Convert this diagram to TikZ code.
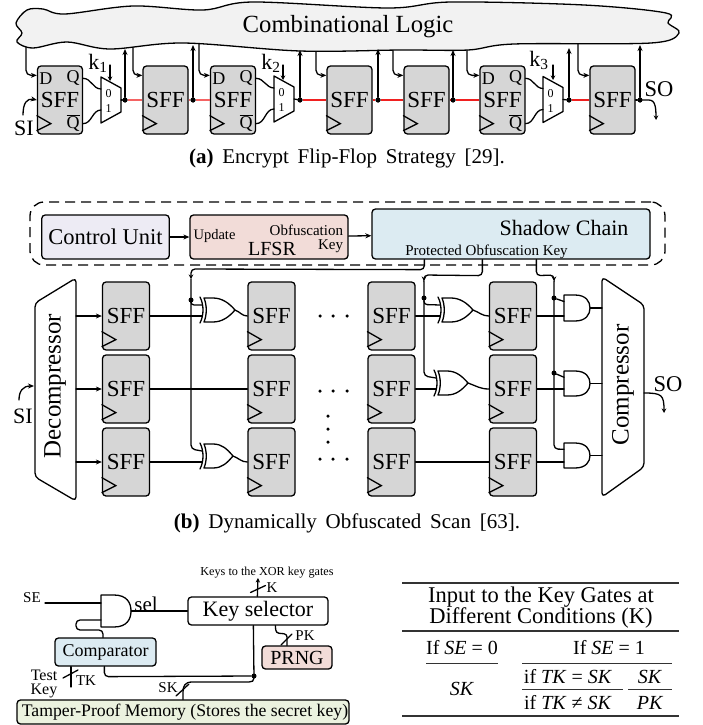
\documentclass[tikz,border=0pt]{standalone}
\usepackage{fontspec}
\setmainfont{Liberation Serif}
\usetikzlibrary{arrows.meta,calc,positioning}
\definecolor{ffgray}{HTML}{D6D6D6}
\definecolor{cloudgray}{HTML}{F2F2F2}
\definecolor{lav}{HTML}{EDEBF4}
\definecolor{pinkb}{HTML}{F2DCD8}
\definecolor{blueb}{HTML}{DCEBF2}
\definecolor{greenb}{HTML}{EBF2DF}
\definecolor{redw}{HTML}{F02020}
\newcommand\fs[1]{\fontsize{#1}{#1}\selectfont}
\newcommand\capf{\fs{21}\spaceskip=.42em\relax}
\tikzset{
 wire/.style={line width=1.3pt,draw=black,line cap=round},
 arr/.style={wire,-{Stealth[length=6pt,width=5pt]}},
 sarr/.style={wire,-{Stealth[length=4.5pt,width=4.5pt]}},
 redwire/.style={line width=1.3pt,draw=redw},
 palered/.style={line width=1.3pt,draw=redw!70},
 dotn/.style={circle,fill=black,inner sep=0,minimum size=5pt},
 sdot/.style={circle,fill=black,inner sep=0,minimum size=3.5pt},
 sffbox/.style={draw,line width=1.3pt,fill=ffgray,rounded corners=3.5pt,inner sep=0,minimum height=68pt,font=\fs{23}},
 blk/.style={draw,line width=1.3pt,rounded corners=3.5pt,inner sep=0},
 txt/.style={inner sep=0,outer sep=0},
 gate/.style={line width=1.3pt,draw=black,fill=white,line join=round},
}
% name, cx, cy, width
\newcommand\sff[4]{%
 \node[sffbox,minimum width=#4pt] (#1) at (#2,#3) {SFF};
 \draw[wire] ($(#1.south west)+(0,-19)$) -- ($(#1.south west)+(14,-11)$) -- ($(#1.south west)+(0,-4)$);
 \coordinate (#1-d) at ($(#1.north west)+(0,10)$);
}
% mux: name, x, top y
\newcommand\muxg[3]{%
 \begin{scope}[shift={(#2,#3)}]
 \draw[wire,line join=round,fill=white] (0,0) -- (20,11) -- (20,35) -- (0,46) -- cycle;
 \coordinate (#1-a) at (0,12);
 \coordinate (#1-b) at (0,33);
 \coordinate (#1-o) at (20,23);
 \coordinate (#1-s) at (9,5);
 \node[txt,font=\fs{12}] (#1-0) at (7.5,17) {0};
 \node[txt,font=\fs{12}] (#1-1) at (7.5,32) {1};
 \end{scope}
}
% xor: name, body-left x, center y, length
\newcommand\xorg[4]{%
 \begin{scope}[shift={(#2,#3)}]
 \draw[gate] (0,-12) -- (9,-12) .. controls (18,-12) and (#4-6,-7) .. (#4,0) .. controls (#4-6,7) and (18,12) .. (9,12) -- (0,12) .. controls (3,5) and (3,-5) .. (0,-12) -- cycle;
 \draw[wire] (-4,-13) .. controls (0,-5) and (0,5) .. (-4,13);
 \coordinate (#1-a) at (-2,-5);
 \coordinate (#1-b) at (-2,6);
 \coordinate (#1-o) at (#4,0);
 \end{scope}
}
% and: name, left x, center y
\newcommand\andg[5]{%
 \begin{scope}[shift={(#2,#3)}]
 \draw[gate] (0,-#5) -- (#4/2-2,-#5) .. controls (#4-4,-#5) and (#4,-#5/2) .. (#4,0) .. controls (#4,#5/2) and (#4-4,#5) .. (#4/2-2,#5) -- (0,#5) -- cycle;
 \coordinate (#1-a) at (0,-#5/2);
 \coordinate (#1-b) at (0,#5/2+1);
 \coordinate (#1-o) at (#4,0);
 \end{scope}
}
\begin{document}
\begin{tikzpicture}[x=1pt,y=-1pt]
\useasboundingbox (0,0) rectangle (702,725);
% ===== (a) =====
\sff{fa}{60}{100}{45}
\sff{fb}{165.5}{100}{45}
\sff{fc}{233}{100}{45}
\sff{fd}{349.5}{100}{45}
\sff{fe}{426.5}{100}{45}
\sff{ff}{502.5}{100}{45}
\sff{fg}{612.5}{100}{45}
% down wires
\coordinate (cda) at (26,40); \coordinate (cdb) at (133,40); \coordinate (cdc) at (199,40);
\coordinate (cdd) at (316,40); \coordinate (cde) at (393,40); \coordinate (cdf) at (467,40); \coordinate (cdg) at (578,40);
\foreach \c/\f in {cda/fa,cdb/fb,cdc/fc,cdd/fd,cde/fe,cdf/ff,cdg/fg}{
 \draw[arr,rounded corners=5pt] (\c) -- (\c |- \f-d) -- (\f-d);
}
% cloud
\path[wire,fill=cloudgray,draw=black] plot[smooth cycle,tension=0.55] coordinates {
 (16,23) (27,10) (43,9) (65,14) (133,6) (203,10) (253,2) (388,8) (451,2) (584,5) (666,13)
 (668,23) (679,33) (651,43) (514,44) (468,50) (401,50) (300,51) (183,43) (110,49) (67,42) (33,48) (17,42) (22,33)};
\node[txt,font=\fs{24.7}] (cloud) at (348,27) {Combinational Logic};
% muxes
\muxg{ma}{101}{77}
\muxg{mb}{274}{76}
\muxg{mc}{543}{76.5}
% dots
\foreach \n/\x/\t in {da/125/49,db/193/45,dc/300/50,dd/378/49,de/453/50,df/569/48,dg/640/45}{
 \node[dotn] (\n) at (\x,100) {};
 \coordinate (\n-t) at (\x,\t);
 \draw[arr] (\n) -- (\n-t);
}
% red and black chain
\draw[wire] (ma-o) -- (da); \draw[palered] (da) -- (fb);
\draw[palered] (fb) -- (db) -- (fc);
\draw[wire] (mb-o) -- (dc); \draw[redwire] (dc) -- (fd);
\draw[redwire] (fd) -- (dd) -- (fe);
\draw[redwire] (fe) -- (de) -- (ff);
\draw[wire] (mc-o) -- (df); \draw[redwire] (df) -- (fg);
\foreach \n in {da,db,dc,dd,de,df,dg}{\node[dotn] at (\n) {};}
% FF pins
\foreach \f/\m in {fa/ma,fc/mb,ff/mc}{
 \node[txt,font=\fs{18}] (\f-qt) at ($(\f.north east)+(-10,13)$) {Q};
 \node[txt,font=\fs{18}] (\f-qb) at ($(\f.south east)+(-10,-12)$) {$\overline{\hbox{Q}}$};
 \node[txt,font=\fs{18}] (\f-dt) at ($(\f.north west)+(9,13)$) {D};
 \draw[wire] ($(\f.north east)+(0,13)$) to[out=0,in=180] (\m-a);
 \draw[wire] ($(\f.south east)+(0,-11)$) to[out=0,in=180] (\m-b);
}
\node[txt,font=\fs{22},anchor=base] (sia) at (24,135) {SI};
\coordinate (sial) at (23,115);
\draw[arr] (sial) .. controls (23,103) and (27,98) .. (fa.west);
\node[txt,font=\fs{22}] (ka) at (98,63) {k\textsubscript{1}};
\node[txt,font=\fs{22}] (kb) at (271,63) {k\textsubscript{2}};
\node[txt,font=\fs{22}] (kc) at (539,60) {k\textsubscript{3}};
\coordinate (kat) at (110,65); \coordinate (kbt) at (283,65); \coordinate (kct) at (553,65);
\coordinate (kae) at (110,81); \coordinate (kbe) at (283,80); \coordinate (kce) at (553,80);
\draw[sarr] (kat) -- (kae); \draw[sarr] (kbt) -- (kbe); \draw[sarr] (kct) -- (kce);
\draw[wire] (fg) -- (dg);
\coordinate (soa) at (656,120);
\draw[sarr] (dg) .. controls (652,100) and (656,98) .. (soa);
\node[txt,font=\fs{22.5},anchor=base] (soat) at (659,96) {SO};
\node[txt,font=\capf] (capa) at (347,158) {\textbf{(a)} Encrypt Flip-Flop Strategy [29].};
% ===== (b) =====
\node[draw,dashed,dash pattern=on 10pt off 6pt,line width=1.3pt,rounded corners=14pt,inner sep=0,minimum width=635pt,minimum height=63pt] (dash) at (347.5,233.5) {};
\node[blk,fill=lav,minimum width=127.5pt,minimum height=44pt,font=\fs{22.5}] (cu) at (105.5,237) {Control Unit};
\node[blk,fill=pinkb,minimum width=158pt,minimum height=44pt] (lfsr) at (269,237) {};
\node[blk,fill=blueb,minimum width=278pt,minimum height=50pt] (sc) at (511,234) {};
\node[txt,font=\fs{14.5}] (upd) at (214.5,236) {Update};
\node[txt,font=\fs{15},anchor=base east] (obf) at (343,235) {Obfuscation};
\node[txt,font=\fs{15},anchor=base east] (okey) at (343,249) {Key};
\node[txt,font=\fs{20}] (lf) at (272,249) {LFSR};
\node[txt,font=\fs{22}] (shc) at (564,228) {Shadow Chain};
\node[txt,font=\fs{15}] (pok) at (486.5,252) {Protected Obfuscation Key};
\draw[arr] (cu) -- (lfsr);
\draw[arr] (lfsr) -- (sc);
% decompressor / compressor
\draw[wire,rounded corners=4pt,line join=round] (35,303) -- (76,278) -- (76,501) -- (35,477) -- cycle;
\node[txt,font=\fs{25},rotate=90] (dect) at (55,386) {Decompressor};
\draw[wire,rounded corners=4pt,line join=round] (602,277) -- (644,305) -- (644,467) -- (602,497) -- cycle;
\node[txt,font=\fs{25},rotate=90] (comt) at (623,385) {Compressor};
% flip flops
\foreach \n/\x in {p/126,q/271.5,r/391.5,s/513}{
 \sff{\n1}{\x}{316}{47}
 \sff{\n2}{\x}{389}{47}
 \sff{\n3}{\x}{462}{47}
}
\coordinate (dd1) at (76,316); \coordinate (dd2) at (76,389); \coordinate (dd3) at (76,462);
\foreach \i in {1,2,3}{\draw[arr] (dd\i) -- (p\i);}
% gates
\xorg{xa}{204}{310}{31}
\xorg{xb}{442}{310}{31}
\xorg{xc}{438}{383}{30}
\xorg{xd}{204}{456}{29}
\andg{aa}{564}{308}{26}{13}
\andg{ab}{564}{383.5}{26}{12.5}
\andg{ac}{564}{455.5}{26}{12.5}
\draw[wire] (p1.east) -- (p1.east -| xa-b);
\draw[wire] (xa-o) to[out=-20,in=180] (q1.west);
\draw[wire] (p2) -- (q2);
\draw[wire] (p3.east) -- (p3.east -| xd-b);
\draw[wire] (xd-o) to[out=-20,in=180] (q3.west);
\draw[wire] (r1.east) -- (r1.east -| xb-b);
\draw[wire] (xb-o) to[out=-20,in=180] (s1.west);
\draw[wire] (r2.east) -- (r2.east -| xc-b);
\draw[wire] (xc-o) to[out=-20,in=180] (s2.west);
\draw[wire] (r3) -- (s3);
\draw[wire] (s1.east) -- (s1.east -| aa-a);
\draw[wire] (s2.east) -- (s2.east -| ab-a);
\draw[wire] (s3.east) -- (s3.east -| ac-a);
\coordinate (cc1) at (602,308); \coordinate (cc2) at (602,383.5); \coordinate (cc3) at (602,455.5);
\draw[wire] (aa-o) -- (cc1); \draw[wire] (ab-o) -- (cc2); \draw[wire] (ac-o) -- (cc3);
% key lines
\coordinate (v1t) at (191,279); \coordinate (v2t) at (424,281); \coordinate (v3t) at (554,281);
\node[sdot,minimum size=5pt] (vd1) at (191,300) {};
\node[sdot,minimum size=5pt] (vd2) at (424,298) {};
\node[sdot,minimum size=5pt] (vd3) at (554,298) {};
\node[sdot,minimum size=5pt] (vd4) at (554,373) {};
\draw[sarr,rounded corners=4pt] ($(sc.south west)+(53,0)$) -- +(0,10) -- (191,269) -- (v1t);
\draw[sarr,rounded corners=4pt] ($(sc.south west)+(111,0)$) -- +(0,16) -- (424,275) -- (v2t);
\draw[sarr,rounded corners=4pt] ($(sc.south west)+(165,0)$) -- +(0,16) -- (554,275) -- (v3t);
\draw[wire,rounded corners=4pt] (v1t) -- (191,449) -- (xd-a);
\draw[wire,rounded corners=4pt] (v2t) -- (424,376) -- (xc-a);
\draw[wire,rounded corners=4pt] (v3t) -- (554,449) -- (ac-a);
\draw[wire,rounded corners=3pt] (vd1) -- (191,305) -- (xa-a);
\draw[wire,rounded corners=3pt] (vd2) -- (424,304.5) -- (xb-a);
\draw[wire,rounded corners=2pt] (vd3) -- (aa-a);
\draw[wire,rounded corners=2pt] (vd4) -- (ab-a);
% dots row
\foreach \n/\x/\y in {e1/320/316,e2/333/316,e3/347/316,e4/320/391,e5/333/391,e6/347/391,e7/320/459,e8/333/459,e9/347/459,e10/328/416,e11/328/429,e12/328/442}{
 \node[sdot] (\n) at (\x,\y) {};
}
\node[txt,font=\fs{22},anchor=base] (sib) at (23,423) {SI};
\coordinate (sibl) at (19,400); \coordinate (sibe) at (34,386);
\draw[arr] (sibl) .. controls (19,391) and (23,386) .. (sibe);
\node[txt,font=\fs{22.5},anchor=base] (sob) at (668,391) {SO};
\coordinate (soe) at (644,393); \coordinate (sobe) at (664,413);
\draw[sarr] (soe) .. controls (662,393) and (664,395) .. (sobe);
\node[txt,font=\capf] (capb) at (347,523) {\textbf{(b)} Dynamically Obfuscated Scan [63].};
% ===== (c) =====
\node[txt,font=\fs{12.2}] (ktx) at (267,573) {Keys to the XOR key gates};
\node[blk,fill=white,minimum width=140pt,minimum height=28pt,font=\fs{22}] (ks) at (258,611) {Key selector};
\andg{gs}{101}{611}{30}{16}
\coordinate (kup) at (258,578);
\draw[sarr] ($(ks.north west)+(70,0)$) -- (kup);
\draw[wire] (250.5,592.5) -- (265.5,585.5);
\node[txt,font=\fs{15}] (kk) at (272,588) {K};
\node[txt,font=\fs{15}] (se) at (32,598) {SE};
\coordinate (sew) at (45,603);
\draw[wire] (sew) -- (gs-a);
\node[txt,font=\fs{21}] (sel) at (146,604) {sel};
\draw[wire] (gs-o) -- (ks.west);
\node[blk,fill=blueb,minimum width=101pt,minimum height=28pt,font=\fs{18}] (cmp) at (105.5,652) {Comparator};
\draw[wire,rounded corners=4pt] (101,620) -- (76,620) -- (76,630) -- (103,630) -- (cmp.north -| 103,0);
\coordinate (tkb) at (71,687);
\draw[wire] (cmp.south -| tkb) -- (tkb);
\draw[wire] (63,678) -- (78,670);
\node[txt,font=\fs{16},anchor=base] (tst) at (44,680) {Test};
\node[txt,font=\fs{16},anchor=base] (tky) at (44,694) {Key};
\node[txt,font=\fs{15}] (tk) at (86,681) {TK};
\node[blk,fill=greenb,minimum width=332pt,minimum height=24pt,font=\fs{17.7}] (mem) at (183,712) {\hspace*{4pt}Tamper-Proof Memory (Stores the secret key)};
\node[blk,fill=pinkb,minimum width=70pt,minimum height=23pt,font=\fs{20}] (prng) at (297,657.5) {PRNG};
\node[sdot,minimum size=5pt] (jd) at (254,676) {};
\draw[wire,rounded corners=4pt] ($(cmp.south west)+(50,0)$) -- +(0,10) -- (jd);
\draw[wire] ($(ks.south west)+(66,0)$) -- (254,678) .. controls (254,681) and (252,682) .. (249,682) -- (192,682) .. controls (185,682) and (183,686) .. (183,692) -- (mem.north -| 183,0);
\draw[wire] (176,696) -- (189,684);
\node[txt,font=\fs{15}] (sk) at (168,688) {SK};
\draw[wire,rounded corners=3pt] ($(ks.south west)+(88,0)$) -- (276,633) -- (287,634) -- (prng.north -| 287,0);
\draw[wire] (281,645) -- (292,634);
\node[txt,font=\fs{15}] (pk) at (305,636) {PK};
% table
\draw[line width=1.1pt,black!80] (402,583) -- (679,583);
\draw[line width=1.1pt,black!80] (402,631) -- (679,631);
\draw[line width=1.1pt,black!80] (402,716) -- (679,716);
\draw[line width=1pt,black!80] (426,663) -- (498,663);
\draw[line width=1pt,black!80] (522,663) -- (672,663);
\draw[line width=1pt,black!80] (522,689) -- (623,689);
\draw[line width=1pt,black!80] (628,689) -- (672,689);
\node[txt,font=\fs{22.5}] (t1) at (541,597) {Input to the Key Gates at};
\node[txt,font=\fs{22.5}] (t2) at (541,618) {Different Conditions (K)};
\node[txt,font=\fs{20}] (t3) at (462,648) {If \textit{SE} = 0};
\node[txt,font=\fs{20}] (t4) at (609,648) {If \textit{SE} = 1};
\node[txt,font=\fs{20}] (t5) at (462,689) {\textit{SK}};
\node[txt,font=\fs{20}] (t6) at (568,677) {if \textit{TK} = \textit{SK}};
\node[txt,font=\fs{20}] (t7) at (568,703) {if \textit{TK} ≠ \textit{SK}};
\node[txt,font=\fs{20}] (t8) at (650,677) {\textit{SK}};
\node[txt,font=\fs{20}] (t9) at (650,703) {\textit{PK}};
\end{tikzpicture}
\end{document}
